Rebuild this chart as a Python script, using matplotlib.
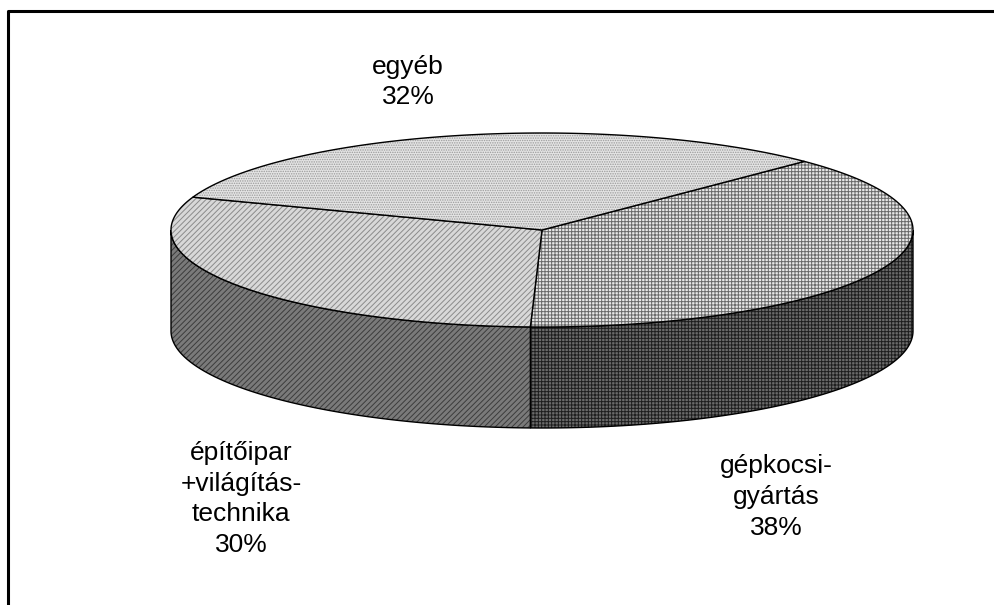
import numpy as np
import matplotlib.pyplot as plt
from matplotlib.patches import Polygon

plt.rcParams['font.family'] = ['Liberation Sans', 'DejaVu Sans']
plt.rcParams['hatch.linewidth'] = 0.7

names = ["gépkocsi-\ngyártás", "építőipar\n+világítás-\ntechnika", "egyéb"]
shares = [38, 30, 32]

top_face = ["#e8e8e8", "#d8d8d8", "#e4e4e4"]
top_hatch_col = ["#6a6a6a", "#8a8a8a", "#9a9a9a"]
side_face = ["#6a6a6a", "#7a7a7a", "#7a7a7a"]
side_hatch_col = ["#1e1e1e", "#3c3c3c", "#3c3c3c"]
hatches = ["+++++", "//////", "......."]

# pie geometry in pixels
cx, cy, a, b, h = 542, 230, 371, 97, 101
start = 45.0

fig = plt.figure(figsize=(9.94, 6.05), dpi=100)
ax = fig.add_axes([0, 0, 1, 1])
ax.set_xlim(0, 994)
ax.set_ylim(605, 0)
ax.axis("off")


def arc(t0, t1, dy=0, n=200):
    t = np.radians(np.linspace(t0, t1, n))
    return np.column_stack([cx + a * np.cos(t), cy - b * np.sin(t) + dy])


bounds = []
ang = start
for s in shares:
    bounds.append((ang, ang - s * 3.6))
    ang -= s * 3.6

# side walls (front half only: angles between -180 and 0)
for i, (t0, t1) in enumerate(bounds):
    lo, hi = max(t1, -180), min(t0, 0)
    if hi <= lo:
        continue
    upper = arc(hi, lo)
    lower = arc(lo, hi, dy=h)
    poly = np.vstack([upper, lower])
    ax.add_patch(Polygon(poly, closed=True, facecolor=side_face[i],
                         edgecolor=side_hatch_col[i], hatch=hatches[i], lw=0))
    ax.add_patch(Polygon(poly, closed=True, fill=False, edgecolor="black", lw=1))

# top faces
for i, (t0, t1) in enumerate(bounds):
    poly = np.vstack([[cx, cy], arc(t0, t1)])
    ax.add_patch(Polygon(poly, closed=True, facecolor=top_face[i],
                         edgecolor=top_hatch_col[i], hatch=hatches[i], lw=0))
    ax.add_patch(Polygon(poly, closed=True, fill=False, edgecolor="black", lw=1))

label_pos = [(776, 497), (241, 499), (408, 82)]
for i, (x, y) in enumerate(label_pos):
    ax.text(x, y, f"{names[i]}\n{shares[i]}%", ha="center", va="center",
            fontsize=19, linespacing=1.36, color="black")

# chart frame (only top and left sides visible)
ax.plot([8, 8, 994], [605, 11, 11], color="black", lw=2.2, solid_capstyle="projecting")

fig.savefig("out.png", dpi=100)
